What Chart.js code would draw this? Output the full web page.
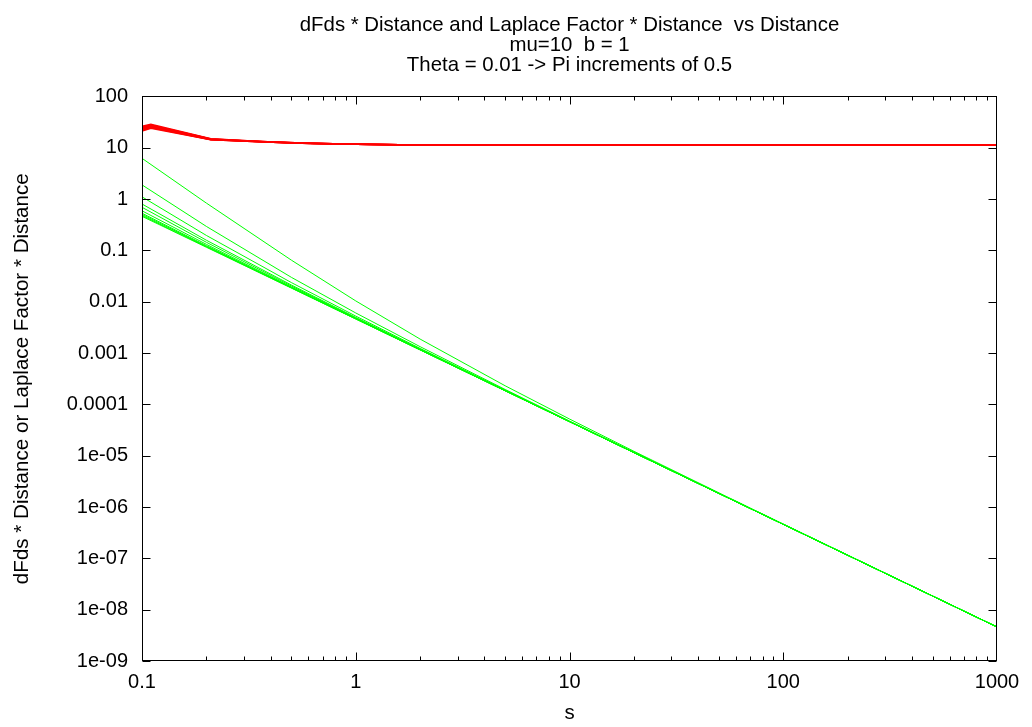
<!DOCTYPE html>
<html>
<head>
<meta charset="utf-8">
<title>dFds * Distance and Laplace Factor * Distance vs Distance</title>
<script src="https://cdn.jsdelivr.net/npm/chart.js@4.4.1/dist/chart.umd.min.js"></script>
<style>
  html, body { margin: 0; padding: 0; background: #fff; }
  canvas { display: block; }
</style>
</head>
<body>
<canvas id="chart" width="1032" height="727"></canvas>
<script>
const titleLines = [
  'dFds * Distance and Laplace Factor * Distance  vs Distance',
  'mu=10  b = 1',
  'Theta = 0.01 -> Pi increments of 0.5'
];

// axis ticks (log decades)
const xTicks = [0.1, 1, 10, 100, 1000];
const xTickLabels = ['0.1', '1', '10', '100', '1000'];
const yTicks = [100, 10, 1, 0.1, 0.01, 0.001, 0.0001, 1e-5, 1e-6, 1e-7, 1e-8, 1e-9];
const yTickLabels = ['100', '10', '1', '0.1', '0.01', '0.001', '0.0001', '1e-05', '1e-06', '1e-07', '1e-08', '1e-09'];

// Laplace factor * distance, one curve per theta step
const redDistance = [0.1, 0.11, 0.21, 0.31, 0.41, 0.61, 1.01, 2.01, 5.01, 10, 100, 1000];
const redLines = [
  [21.0, 24.0, 14.2, 13.30, 12.70, 12.10, 11.65, 11.30, 11.15, 11.1, 11.1, 11.1],
  [21.7, 24.6, 14.3, 13.35, 12.73, 12.11, 11.66, 11.30, 11.15, 11.1, 11.1, 11.1],
  [22.4, 25.2, 14.4, 13.40, 12.76, 12.13, 11.66, 11.31, 11.15, 11.1, 11.1, 11.1],
  [23.1, 25.8, 14.5, 13.45, 12.79, 12.14, 11.67, 11.31, 11.15, 11.1, 11.1, 11.1],
  [23.8, 26.5, 14.6, 13.50, 12.82, 12.16, 11.67, 11.32, 11.16, 11.1, 11.1, 11.1],
  [24.5, 27.2, 14.7, 13.55, 12.85, 12.17, 11.68, 11.32, 11.16, 11.1, 11.1, 11.1],
  [25.2, 27.8, 14.8, 13.60, 12.88, 12.19, 11.69, 11.33, 11.16, 11.1, 11.1, 11.1],
  [26.0, 28.5, 15.0, 13.65, 12.90, 12.20, 11.70, 11.33, 11.17, 11.1, 11.1, 11.1]
];

// dFds * distance
const greenDistance = [0.1, 0.2, 0.5, 1, 2, 5, 10, 20, 50, 100, 1000];
const greenLines = [
  [6.21, 0.834, 0.0644, 0.01035, 1.87e-3, 2.30e-4, 5.18e-5, 1.22e-5, 1.89e-6, 4.66e-7, 4.6e-9],
  [1.886, 0.293, 0.0298, 6.03e-3, 1.33e-3, 1.95e-4, 4.74e-5, 1.17e-5, 1.85e-6, 4.61e-7, 4.6e-9],
  [1.104, 0.1955, 0.02355, 5.24e-3, 1.23e-3, 1.89e-4, 4.66e-5, 1.155e-5, 1.84e-6, 4.6e-7, 4.6e-9],
  [0.80, 0.1576, 0.02112, 4.94e-3, 1.19e-3, 1.87e-4, 4.63e-5, 1.15e-5, 1.84e-6, 4.6e-7, 4.6e-9],
  [0.69, 0.1438, 0.02024, 4.83e-3, 1.18e-3, 1.86e-4, 4.62e-5, 1.15e-5, 1.84e-6, 4.6e-7, 4.6e-9],
  [0.589, 0.1311, 0.01943, 4.73e-3, 1.166e-3, 1.85e-4, 4.61e-5, 1.15e-5, 1.84e-6, 4.6e-7, 4.6e-9],
  [0.529, 0.1236, 0.01895, 4.67e-3, 1.16e-3, 1.845e-4, 4.6e-5, 1.15e-5, 1.84e-6, 4.6e-7, 4.6e-9],
  [0.501, 0.1202, 0.01873, 4.64e-3, 1.155e-3, 1.84e-4, 4.6e-5, 1.15e-5, 1.84e-6, 4.6e-7, 4.6e-9],
  [0.478, 0.1173, 0.01855, 4.62e-3, 1.152e-3, 1.84e-4, 4.6e-5, 1.15e-5, 1.84e-6, 4.6e-7, 4.6e-9],
  [0.46, 0.115, 0.0184, 4.6e-3, 1.15e-3, 1.84e-4, 4.6e-5, 1.15e-5, 1.84e-6, 4.6e-7, 4.6e-9]
];

const family = "'Liberation Sans', Arial, Helvetica, sans-serif";

function toPoints(xs, ys) {
  return ys.map((v, i) => ({ x: xs[i], y: v }));
}

function lineSet(xs, ys, colour, width) {
  return {
    data: toPoints(xs, ys),
    borderColor: colour,
    borderWidth: width,
    pointRadius: 0,
    tension: 0,
    fill: false
  };
}

const datasets = [
  ...redLines.map(l => lineSet(redDistance, l, '#ff0000', 1.5)),
  ...greenLines.map(l => lineSet(greenDistance, l, '#00ff00', 1))
];

// gnuplot-like border with inward ticks on all four sides
const frame = {
  id: 'frame',
  afterDraw(chart) {
    const { ctx, chartArea: a, scales } = chart;
    const xs = scales.x, ys = scales.y;
    const left = Math.round(a.left) + 0.5, right = Math.round(a.right) - 0.5;
    const top = Math.round(a.top) + 0.5, bottom = Math.round(a.bottom) - 0.5;
    ctx.save();
    ctx.strokeStyle = '#000';
    ctx.lineWidth = 1;
    ctx.beginPath();
    for (let e = -1; e < 3; e++) {
      for (let k = 1; k < 10; k++) {
        const px = Math.round(xs.getPixelForValue(k * Math.pow(10, e))) + 0.5;
        const len = k === 1 ? 8 : 4;
        ctx.moveTo(px, bottom); ctx.lineTo(px, bottom - len);
        ctx.moveTo(px, top); ctx.lineTo(px, top + len);
      }
    }
    yTicks.forEach(v => {
      const py = Math.round(ys.getPixelForValue(v)) + 0.5;
      ctx.moveTo(left, py); ctx.lineTo(left + 8, py);
      ctx.moveTo(right, py); ctx.lineTo(right - 8, py);
    });
    ctx.stroke();
    ctx.strokeRect(left, top, right - left, bottom - top);
    ctx.restore();
  }
};

new Chart(document.getElementById('chart'), {
  type: 'line',
  data: { datasets },
  options: {
    responsive: false,
    animation: false,
    events: [],
    layout: { padding: { left: 0, right: 35, top: 0, bottom: 0 } },
    plugins: {
      legend: { display: false },
      tooltip: { enabled: false },
      title: {
        display: true,
        fullSize: false,
        text: titleLines,
        color: '#000',
        font: { family, size: 20.4, weight: 'normal', lineHeight: 0.97 },
        padding: { top: 15.5, bottom: 21.5 }
      }
    },
    scales: {
      x: {
        type: 'logarithmic',
        min: 0.1,
        max: 1000,
        afterBuildTicks: s => { s.ticks = xTicks.map(v => ({ value: v })); },
        afterFit: s => { s.height = 66; },
        grid: { display: false, drawTicks: false },
        border: { display: false },
        ticks: {
          autoSkip: false,
          maxRotation: 0,
          padding: 9.8,
          color: '#000',
          font: { family, size: 20, lineHeight: 1.2 },
          callback: (v, i) => xTickLabels[i]
        },
        title: {
          display: true,
          text: 's',
          color: '#000',
          font: { family, size: 20.4, lineHeight: 1.2 },
          padding: { top: 0, bottom: 1.2 }
        }
      },
      y: {
        type: 'logarithmic',
        min: 1e-9,
        max: 100,
        afterBuildTicks: s => { s.ticks = yTicks.map(v => ({ value: v })); },
        afterFit: s => { s.width = 142; },
        grid: { display: false, drawTicks: false },
        border: { display: false },
        ticks: {
          autoSkip: false,
          padding: 14,
          color: '#000',
          font: { family, size: 20, lineHeight: 1.2 },
          callback: (v, i) => yTickLabels[i]
        },
        title: {
          display: true,
          text: 'dFds * Distance or Laplace Factor * Distance',
          color: '#000',
          font: { family, size: 20.6, lineHeight: 1.2 },
          padding: { top: 10, bottom: 0 }
        }
      }
    }
  },
  plugins: [frame]
});
</script>
</body>
</html>
